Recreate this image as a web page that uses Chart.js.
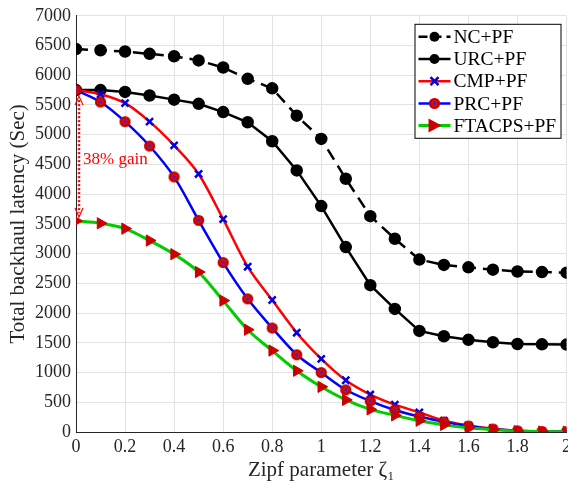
<!DOCTYPE html>
<html>
<head>
<meta charset="utf-8">
<script src="https://cdn.jsdelivr.net/npm/chart.js@4/dist/chart.umd.min.js"></script>
<style>
  html, body { margin: 0; padding: 0; background: #fff; overflow: hidden; }
</style>
</head>
<body>
<canvas id="latencyChart" width="575" height="487"></canvas>
<script>
// Zipf parameter values (x) and latency per scheme (Sec)
const zeta = [0, 0.1, 0.2, 0.3, 0.4, 0.5, 0.6, 0.7, 0.8, 0.9, 1.0, 1.1, 1.2, 1.3, 1.4, 1.5, 1.6, 1.7, 1.8, 1.9, 2.0];
const ncPF =     [6440, 6420, 6400, 6360, 6320, 6250, 6130, 5940, 5780, 5320, 4930, 4260, 3630, 3250, 2900, 2810, 2770, 2730, 2700, 2690, 2680];
const urcPF =    [5750, 5750, 5720, 5660, 5590, 5520, 5380, 5210, 4890, 4400, 3800, 3110, 2470, 2070, 1700, 1610, 1550, 1510, 1480, 1475, 1470];
const cmpPF =    [5750, 5680, 5530, 5220, 4820, 4340, 3580, 2780, 2220, 1670, 1230, 870, 630, 460, 330, 190, 110, 55, 20, 10, 5];
const prcPF =    [5750, 5550, 5220, 4810, 4290, 3560, 2850, 2240, 1750, 1300, 1000, 710, 520, 370, 260, 170, 100, 50, 20, 10, 5];
const ftacpsPF = [3550, 3510, 3420, 3220, 2990, 2690, 2210, 1720, 1370, 1030, 760, 540, 380, 280, 190, 120, 70, 40, 15, 8, 5];
const seriesNames = ['NC+PF', 'URC+PF', 'CMP+PF', 'PRC+PF', 'FTACPS+PF'];
const gainLabel = '38% gain';

const serif = "'Liberation Serif', 'Times New Roman', serif";

function pts(arr) {
  return zeta.map((z, i) => ({ x: z, y: arr[i] }));
}

// red ring marker with blue center, like the PRC markers
function ringMarker() {
  const c = document.createElement('canvas');
  c.width = 13; c.height = 13;
  const g = c.getContext('2d');
  g.beginPath();
  g.arc(6.5, 6.5, 4.5, 0, Math.PI * 2);
  g.fillStyle = '#d01010';
  g.fill();
  g.lineWidth = 2.2;
  g.strokeStyle = '#c00000';
  g.stroke();
  g.beginPath();
  g.arc(6.5, 6.5, 1.3, 0, Math.PI * 2);
  g.fillStyle = '#2020ff';
  g.fill();
  return c;
}
const ring = ringMarker();

const datasets = [
  {
    label: seriesNames[0], data: pts(ncPF), order: 5,
    borderColor: '#000', borderWidth: 2.5, borderDash: [12, 7],
    pointStyle: 'circle', pointRadius: 5, pointBackgroundColor: '#000', pointBorderColor: '#000',
    tension: 0
  },
  {
    label: seriesNames[1], data: pts(urcPF), order: 4,
    borderColor: '#000', borderWidth: 2.5,
    pointStyle: 'circle', pointRadius: 5, pointBackgroundColor: '#000', pointBorderColor: '#000',
    tension: 0
  },
  {
    label: seriesNames[2], data: pts(cmpPF), order: 3,
    borderColor: '#ff0000', borderWidth: 2.5,
    pointStyle: 'crossRot', pointRadius: 5, pointBorderColor: '#0000e0', pointBorderWidth: 2.5,
    cubicInterpolationMode: 'monotone'
  },
  {
    label: seriesNames[3], data: pts(prcPF), order: 2,
    borderColor: '#0000ff', borderWidth: 2.5,
    pointStyle: ring, pointRadius: 6,
    cubicInterpolationMode: 'monotone'
  },
  {
    label: seriesNames[4], data: pts(ftacpsPF), order: 1,
    borderColor: '#00cc00', borderWidth: 3,
    pointStyle: 'triangle', rotation: 90, pointRadius: 6.5,
    pointBackgroundColor: '#cc0000', pointBorderColor: '#cc0000', pointBorderWidth: 1,
    cubicInterpolationMode: 'monotone'
  }
];

// dotted double arrow and gain text
const gainArrow = {
  id: 'gainArrow',
  beforeDatasetsDraw(chart) {
    const ctx = chart.ctx;
    const xs = chart.scales.x, ys = chart.scales.y;
    const x = xs.getPixelForValue(0) + 3;
    const yTop = ys.getPixelForValue(prcPF[0]) + 6;
    const yBot = ys.getPixelForValue(ftacpsPF[0]) - 4;
    ctx.save();
    ctx.strokeStyle = '#ff0000';
    ctx.lineWidth = 2.5;
    ctx.setLineDash([2, 2]);
    ctx.beginPath();
    ctx.moveTo(x, yTop + 4);
    ctx.lineTo(x, yBot - 4);
    ctx.stroke();
    ctx.setLineDash([]);
    ctx.lineWidth = 1.2;
    ctx.beginPath();
    ctx.moveTo(x - 4, yTop + 9); ctx.lineTo(x, yTop); ctx.lineTo(x + 4, yTop + 9);
    ctx.moveTo(x - 4, yBot - 9); ctx.lineTo(x, yBot); ctx.lineTo(x + 4, yBot - 9);
    ctx.stroke();
    ctx.fillStyle = '#ff0000';
    ctx.font = '17px ' + serif;
    ctx.textBaseline = 'alphabetic';
    ctx.fillText(gainLabel, x + 4, ys.getPixelForValue(4500));
    ctx.restore();
  }
};

// MATLAB-style legend box
const boxLegend = {
  id: 'boxLegend',
  afterDraw(chart) {
    const ctx = chart.ctx;
    const area = chart.chartArea;
    const right = area.right - 6, top = area.top + 8;
    const w = 146, rowH = 22.2;
    const left = right - w;
    ctx.save();
    ctx.fillStyle = '#fff';
    ctx.fillRect(left, top, w, rowH * 5 + 3);
    ctx.strokeStyle = '#000';
    ctx.lineWidth = 1;
    ctx.strokeRect(left + 0.5, top + 0.5, w, rowH * 5 + 3);
    ctx.font = '19.5px ' + serif;
    ctx.textBaseline = 'middle';
    datasets.forEach((ds, i) => {
      const cy = top + 13 + i * rowH;
      const x0 = left + 4, x1 = left + 36, mx = (x0 + x1) / 2;
      ctx.strokeStyle = ds.borderColor;
      ctx.lineWidth = ds.borderWidth;
      ctx.setLineDash(ds.borderDash ? [9, 5] : []);
      ctx.beginPath();
      ctx.moveTo(x0, cy); ctx.lineTo(x1, cy);
      ctx.stroke();
      ctx.setLineDash([]);
      if (ds.pointStyle === 'circle') {
        ctx.fillStyle = '#000';
        ctx.beginPath(); ctx.arc(mx, cy, 5, 0, Math.PI * 2); ctx.fill();
      } else if (ds.pointStyle === 'crossRot') {
        ctx.strokeStyle = '#0000e0'; ctx.lineWidth = 2.5;
        ctx.beginPath();
        ctx.moveTo(mx - 4, cy - 4); ctx.lineTo(mx + 4, cy + 4);
        ctx.moveTo(mx + 4, cy - 4); ctx.lineTo(mx - 4, cy + 4);
        ctx.stroke();
      } else if (ds.pointStyle === 'triangle') {
        ctx.fillStyle = '#cc0000';
        ctx.beginPath();
        ctx.moveTo(mx - 6, cy - 7); ctx.lineTo(mx + 7, cy); ctx.lineTo(mx - 6, cy + 7);
        ctx.closePath(); ctx.fill();
      } else {
        ctx.drawImage(ring, mx - 6.5, cy - 6.5);
      }
      ctx.fillStyle = '#000';
      ctx.fillText(ds.label, x1 + 3, cy + 1);
    });
    ctx.restore();
  }
};

new Chart(document.getElementById('latencyChart'), {
  type: 'line',
  data: { datasets: datasets },
  plugins: [gainArrow, boxLegend],
  options: {
    responsive: false,
    animation: false,
    layout: { padding: { top: 2, right: 0, left: 0, bottom: 0 } },
    plugins: { legend: { display: false }, tooltip: { enabled: false } },
    scales: {
      x: {
        type: 'linear', min: 0, max: 2,
        ticks: {
          stepSize: 0.2, color: '#262626', font: { family: serif, size: 18 }, padding: 4, maxRotation: 0,
          callback: (v) => String(Math.round(v * 10) / 10)
        },
        grid: { color: '#e3e3e3', drawTicks: false },
        border: { color: '#262626', width: 1 },
        title: { display: true, text: 'Zipf parameter ζ₁', color: '#262626', font: { family: serif, size: 21 }, padding: { top: 0 } },
        afterFit(scale) { scale.height = 55; }
      },
      y: {
        min: 0, max: 7000,
        ticks: {
          stepSize: 500, color: '#262626', font: { family: serif, size: 18 }, padding: 5,
          callback: (v) => String(v)
        },
        grid: { color: '#e3e3e3', drawTicks: false },
        border: { color: '#262626', width: 1 },
        title: { display: true, text: 'Total backhaul latency (Sec)', color: '#262626', font: { family: serif, size: 21 }, padding: { top: 6, bottom: 0 } },
        afterFit(scale) { scale.width = 76; }
      }
    }
  }
});
</script>
</body>
</html>
